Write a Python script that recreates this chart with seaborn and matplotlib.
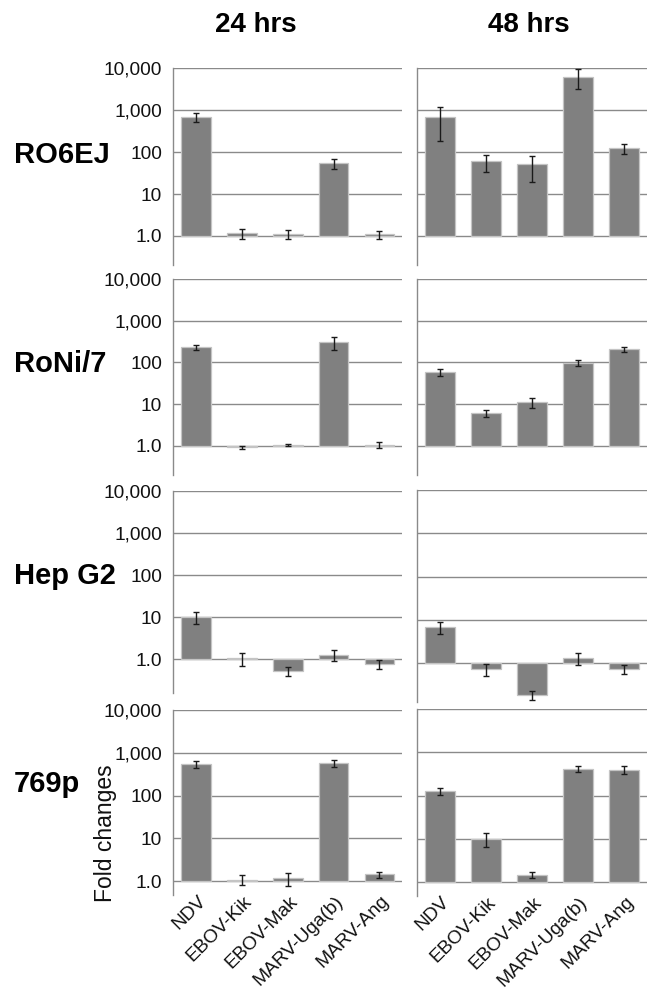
import numpy as np
import pandas as pd
import matplotlib
matplotlib.use("Agg")
import matplotlib.pyplot as plt
import matplotlib.transforms as mtrans
import seaborn as sns

# ---- data: mean fold change and SD per cell line / time point ----
viruses = ["NDV", "EBOV-Kik", "EBOV-Mak", "MARV-Uga(b)", "MARV-Ang"]
cell_lines = ["RO6EJ", "RoNi/7", "Hep G2", "769p"]
timepoints = ["24 hrs", "48 hrs"]

ro6ej_24_mean = [700, 1.16, 1.10, 55, 1.10]
ro6ej_24_sd = [180, 0.33, 0.27, 15, 0.25]
ro6ej_48_mean = [700, 60, 51, 6300, 126]
ro6ej_48_sd = [520, 26, 32, 3100, 34]

roni7_24_mean = [230, 0.93, 1.04, 307, 1.05]
roni7_24_sd = [30, 0.08, 0.05, 110, 0.15]
roni7_48_mean = [58, 6.0, 11.2, 98, 205]
roni7_48_sd = [12, 1.2, 3.1, 15, 27]

hepg2_24_mean = [10, 1.06, 0.53, 1.27, 0.77]
hepg2_24_sd = [3.3, 0.38, 0.13, 0.36, 0.19]
hepg2_48_mean = [6.8, 0.74, 0.19, 1.33, 0.74]
hepg2_48_sd = [2.0, 0.24, 0.045, 0.42, 0.17]

p769_24_mean = [540, 1.08, 1.16, 575, 1.42]
p769_24_sd = [110, 0.27, 0.40, 112, 0.24]
p769_48_mean = [125, 10, 1.45, 410, 400]
p769_48_sd = [22, 3.5, 0.22, 65, 80]

ytick_values = [1, 10, 100, 1000, 10000]
ytick_labels = ["1.0", "10", "100", "1,000", "10,000"]

series = {
    ("RO6EJ", "24 hrs"): (ro6ej_24_mean, ro6ej_24_sd),
    ("RO6EJ", "48 hrs"): (ro6ej_48_mean, ro6ej_48_sd),
    ("RoNi/7", "24 hrs"): (roni7_24_mean, roni7_24_sd),
    ("RoNi/7", "48 hrs"): (roni7_48_mean, roni7_48_sd),
    ("Hep G2", "24 hrs"): (hepg2_24_mean, hepg2_24_sd),
    ("Hep G2", "48 hrs"): (hepg2_48_mean, hepg2_48_sd),
    ("769p", "24 hrs"): (p769_24_mean, p769_24_sd),
    ("769p", "48 hrs"): (p769_48_mean, p769_48_sd),
}

rows = []
for (cell, tp), (means, sds) in series.items():
    for v, m, s in zip(viruses, means, sds):
        rows.append(dict(cell=cell, time=tp, virus=v, mean=m, sd=s))
df = pd.DataFrame(rows)
# bars grow from 1.0 on a log10 axis
df["log_fc"] = np.log10(df["mean"])
df["log_hi"] = np.log10(df["mean"] + df["sd"])
df["log_lo"] = np.log10(df["mean"] - df["sd"])

# ---- figure ----
W, H = 649, 996
sns.set_theme(style="white")
plt.rcParams["font.family"] = ["Liberation Sans", "DejaVu Sans"]
fig = plt.figure(figsize=(W / 100, H / 100), dpi=100)

GRID = "#8a8a8a"
BAR = "#808080"
BAR_EDGE = "#c4c4c4"

# panel geometry in pixels: (top of 10,000 line, 1.0 line, bottom of axis)
row_geom = {
    "RO6EJ": [(68.3, 236.0, 265.0), (68.3, 236.0, 265.0)],
    "RoNi/7": [(279.0, 445.7, 475.0), (279.0, 445.7, 475.0)],
    "Hep G2": [(490.7, 659.3, 693.0), (490.0, 663.3, 702.0)],
    "769p": [(710.0, 881.0, 895.0), (709.3, 882.0, 896.0)],
}
col_x = [(173.3, 402.3), (416.7, 647.0)]

for r, cell in enumerate(cell_lines):
    for c, tp in enumerate(timepoints):
        top, zero, bot = row_geom[cell][c]
        x0, x1 = col_x[c]
        ax = fig.add_axes([x0 / W, 1 - bot / H, (x1 - x0) / W, (bot - top) / H])
        sub = df[(df["cell"] == cell) & (df["time"] == tp)]
        sns.barplot(data=sub, x="virus", y="log_fc", order=viruses, color=BAR,
                    saturation=1, width=0.65, edgecolor=BAR_EDGE, linewidth=0.9,
                    errorbar=None, ax=ax, zorder=2)
        xs = np.arange(len(viruses))
        ax.errorbar(xs, sub["log_fc"],
                    yerr=[sub["log_fc"] - sub["log_lo"], sub["log_hi"] - sub["log_fc"]],
                    fmt="none", ecolor="#1a1a1a", elinewidth=1.0, capsize=2.4,
                    capthick=1.0, zorder=3)
        dec = (zero - top) / 4.0
        ax.set_ylim(-(bot - zero) / dec, 4)
        ax.set_xlim(-0.5, 4.5)
        ax.set_yticks(np.log10(ytick_values))
        ax.yaxis.grid(True, color=GRID, linewidth=1.0)
        ax.set_axisbelow(True)
        for side in ("top", "right", "bottom"):
            ax.spines[side].set_visible(False)
        ax.spines["left"].set_color(GRID)
        ax.spines["left"].set_linewidth(1.0)
        ax.tick_params(axis="y", direction="out", length=3, width=1.0,
                       color=GRID, pad=5.0, labelsize=13.8, labelcolor="#111111")
        ax.tick_params(axis="x", length=0)
        ax.set_xlabel("")
        ax.set_ylabel("")
        if c == 0:
            ax.set_yticklabels(ytick_labels)
        else:
            ax.set_yticklabels([])
        if r == len(cell_lines) - 1:
            ax.set_xticks(xs)
            ax.set_xticklabels(viruses, rotation=45, ha="right", va="center",
                               rotation_mode="anchor", fontsize=13.8, color="#111111")
            ax.tick_params(axis="x", pad=2.5)
            shift = mtrans.ScaledTranslation(7 / 100, 0, fig.dpi_scale_trans)
            for lbl in ax.get_xticklabels():
                lbl.set_transform(lbl.get_transform() + shift)
        else:
            ax.set_xticklabels([])

# column headers
for tp, xc in zip(timepoints, [256.0, 529.0]):
    fig.text(xc / W, 1 - 25 / H, tp, ha="center", va="center",
             fontsize=20, fontweight="bold", color="#000000")

# row labels
for cell, yc in zip(cell_lines, [155, 364, 576, 784]):
    fig.text(13.5 / W, 1 - yc / H, cell, ha="left", va="center",
             fontsize=21, fontweight="bold", color="#000000")

# shared y-axis caption
fig.text(106 / W, 1 - 833 / H, "Fold changes", rotation=90, ha="center",
         va="center", fontsize=16.5, color="#111111")

fig.savefig("out.png", dpi=100)
